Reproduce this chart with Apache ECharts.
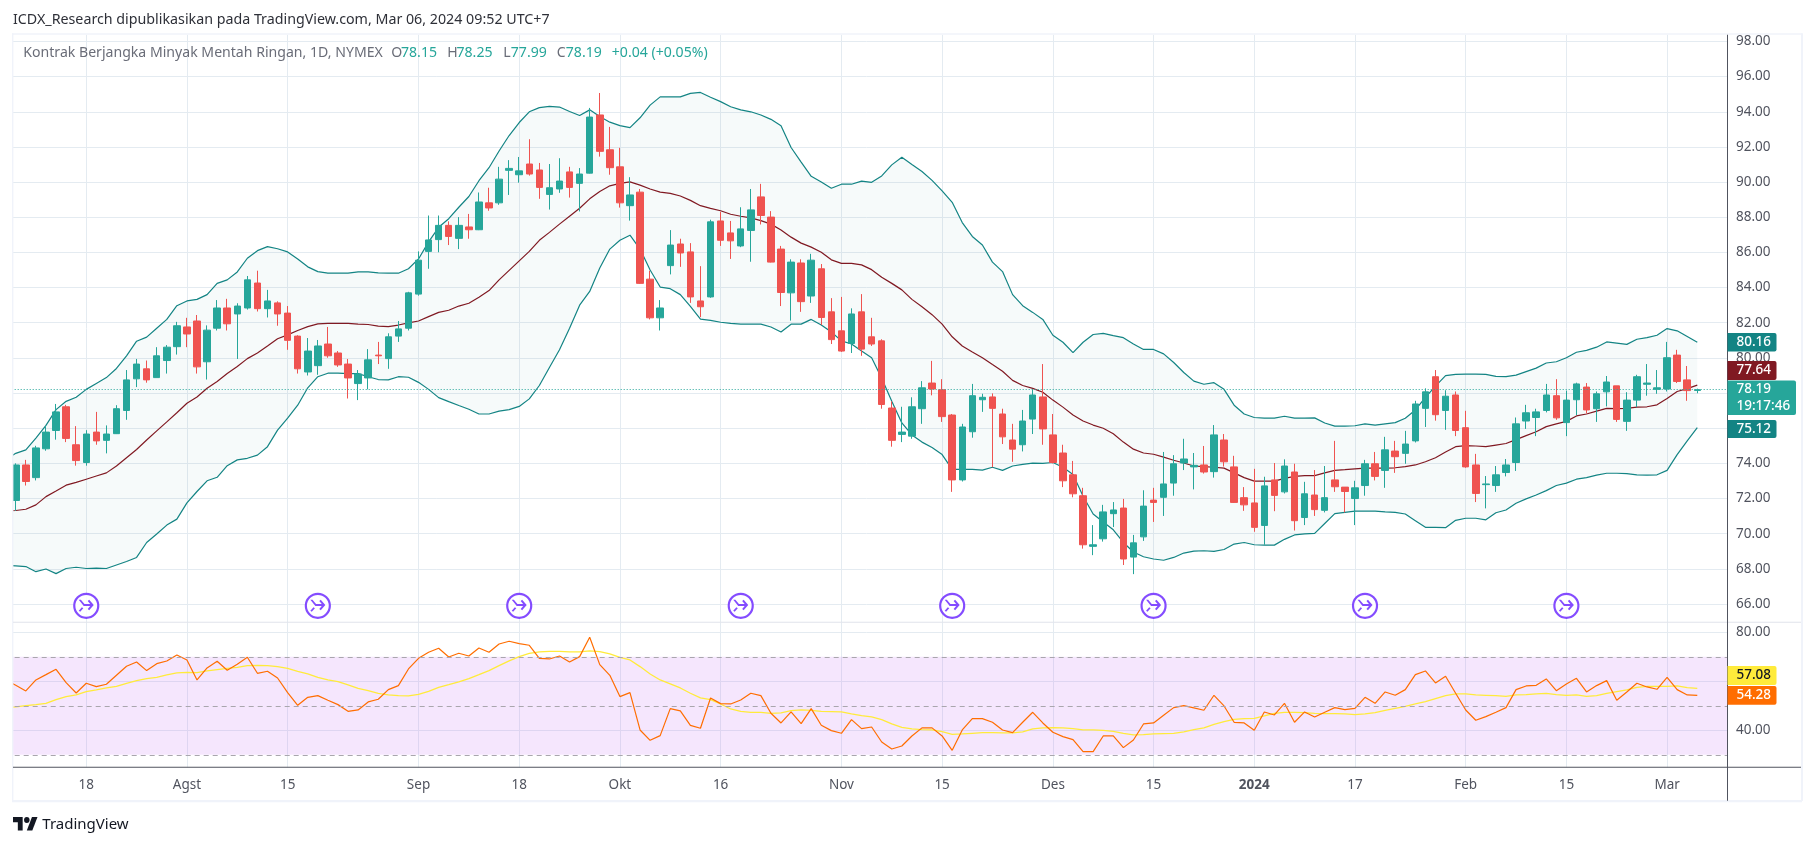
<!DOCTYPE html>
<html><head><meta charset="utf-8">
<script src="https://cdn.jsdelivr.net/npm/echarts@6/dist/echarts.min.js"></script>
<style>html,body{margin:0;padding:0;background:#fff}#c{width:1815px;height:846px}</style>
</head><body><div id="c"></div>
<script>
const tickIndex=[8,18,28,41,51,61,71,83,93,104,114,124,134,145,155,165];
const tickLabels=['18','Agst','15','Sep','18','Okt','16','Nov','15','Des','15','2024','17','Feb','15','Mar'];
const priceTicks=[66,68,70,72,74,76,78,80,82,84,86,88,90,92,94,96,98];
const rsiTicks=[40,60,80];
const dividendBars=[8,31,51,73,94,114,135,155];
const opens=[71.89,73.91,73.19,74.83,75.87,77.22,75.06,74.05,75.78,75.31,75.69,77.01,78.81,79.38,78.88,79.85,80.64,81.76,82.10,79.78,81.69,82.84,82.50,82.84,84.26,82.80,83.13,82.55,81.24,79.20,79.56,80.79,80.28,79.65,78.54,78.86,80.16,79.96,81.24,81.69,83.63,86.06,86.73,87.54,86.80,87.45,87.29,88.82,88.82,90.67,90.42,91.03,90.69,89.30,89.61,90.58,89.93,90.51,93.82,91.84,90.87,88.66,89.43,84.48,82.28,85.25,86.48,86.03,83.24,83.47,87.79,87.11,86.37,87.25,89.16,88.01,86.19,83.70,85.40,83.52,85.07,82.62,81.54,80.82,82.62,81.20,80.97,77.15,75.65,75.55,77.11,78.57,78.19,76.75,73.06,75.80,77.62,77.78,76.81,75.33,75.06,76.52,77.78,75.62,74.59,73.35,72.16,69.28,69.71,71.14,71.46,68.67,69.82,71.91,72.07,72.88,74.02,73.80,73.91,73.53,75.33,73.80,72.05,71.75,70.47,73.06,72.38,73.51,70.92,72.20,71.33,73.06,72.65,72.00,72.74,73.98,73.60,74.70,74.57,75.28,77.13,78.93,77.01,77.89,76.03,73.91,72.79,72.74,73.48,74.05,76.41,76.61,77.01,77.85,76.32,77.62,78.34,77.11,78.07,78.41,76.39,77.60,78.50,78.21,78.23,80.16,78.75,78.15];
const closes=[73.91,72.97,74.88,75.78,76.93,75.42,74.16,75.67,75.28,75.67,77.11,78.75,79.65,78.75,80.12,80.61,81.83,81.36,79.49,81.58,82.84,81.94,82.95,84.44,82.80,83.24,82.50,81.00,79.38,80.39,80.68,80.12,79.60,78.86,79.09,79.89,80.12,81.20,81.65,83.70,85.56,86.71,87.54,86.91,87.54,87.29,88.87,88.53,90.17,90.78,90.64,90.46,89.70,89.68,90.06,89.70,90.46,93.70,91.75,90.82,88.82,89.27,84.24,82.28,82.84,86.42,85.97,83.47,82.91,87.74,86.69,86.66,87.34,88.42,88.10,85.45,83.72,85.45,83.20,85.56,82.30,81.04,80.39,82.50,80.50,80.79,77.35,75.31,75.78,77.22,78.30,78.23,76.66,73.06,76.07,77.85,77.76,77.13,75.51,74.81,76.41,77.89,75.96,74.05,73.01,72.27,69.37,69.37,71.24,71.35,68.56,69.48,71.57,71.78,72.83,73.98,74.25,73.89,73.51,75.62,74.09,71.78,71.64,70.36,72.72,72.18,73.85,70.74,72.27,71.37,72.05,72.67,72.40,72.61,73.98,73.26,74.77,74.38,75.10,77.38,78.07,76.77,77.82,75.87,73.80,72.29,72.83,73.35,73.91,76.25,76.88,76.93,77.89,76.59,77.60,78.52,77.04,77.96,78.63,76.50,77.60,78.93,78.57,78.30,80.01,78.66,78.14,78.19];
const highs=[74.00,74.20,75.00,76.12,77.38,77.33,76.12,75.89,76.93,76.16,77.31,79.31,79.94,79.85,80.61,80.73,82.05,82.28,82.44,81.85,83.29,83.36,83.11,84.66,84.96,83.87,83.22,82.95,81.29,81.13,81.02,81.76,80.39,79.94,79.31,80.50,80.91,81.40,82.10,83.76,86.06,88.10,88.10,87.77,88.01,88.19,89.41,89.68,90.87,91.25,91.43,92.44,91.09,91.03,91.36,90.87,90.80,94.22,95.07,93.14,91.95,90.28,89.61,84.96,83.29,87.27,86.78,86.53,85.22,87.86,88.30,87.79,88.57,89.61,89.90,88.35,86.37,85.61,85.61,85.92,85.34,83.40,83.47,82.82,83.63,82.28,81.06,77.53,77.22,77.76,78.68,79.83,78.79,76.81,76.25,78.52,77.96,77.98,77.11,76.25,77.04,78.21,79.65,76.81,75.06,74.14,72.61,70.49,71.64,71.80,71.98,69.93,72.47,72.61,74.65,74.47,75.40,74.59,74.99,76.18,75.67,74.43,72.65,73.69,73.24,74.02,74.23,73.98,72.95,73.62,73.85,75.28,72.65,73.01,74.20,74.65,75.51,75.28,75.85,77.56,78.27,79.31,78.16,78.09,76.99,74.54,73.28,73.85,74.25,76.61,77.33,77.11,78.52,78.79,78.14,78.59,78.57,78.09,78.97,78.41,78.05,79.04,79.65,79.31,80.91,80.46,79.54,78.25];
const lows=[71.30,72.74,73.03,74.72,75.35,75.21,73.87,73.87,75.06,74.57,75.67,76.48,78.34,78.59,78.88,79.11,80.19,80.61,79.11,78.77,81.56,81.56,79.94,82.75,82.64,82.30,81.83,80.46,79.11,79.00,79.04,80.01,79.49,77.69,77.60,78.21,79.65,79.38,80.91,81.56,83.54,85.07,86.01,86.42,86.19,86.78,87.27,88.37,88.71,89.27,89.97,90.37,89.05,88.44,89.39,89.12,88.33,90.49,91.45,90.42,88.55,87.81,84.21,82.19,81.56,84.75,85.18,83.13,82.32,83.42,86.37,85.63,86.30,85.47,87.59,85.43,82.95,82.12,82.62,83.13,81.87,80.79,80.34,80.28,80.12,80.68,77.11,74.95,75.21,75.40,76.25,77.87,76.36,72.38,72.97,75.46,76.93,73.78,75.10,74.09,74.68,75.67,75.06,74.00,72.65,72.07,69.15,68.78,69.55,70.38,68.22,67.70,69.59,70.67,71.01,72.16,73.62,72.52,73.42,73.19,73.82,71.75,71.30,70.11,69.37,71.28,72.29,70.18,70.49,71.01,71.21,72.38,71.21,70.49,72.16,73.03,72.61,73.46,73.98,75.19,76.07,76.43,75.91,75.55,73.75,71.80,71.44,72.38,73.26,73.57,75.96,75.55,76.90,76.48,75.55,76.75,76.84,76.36,77.24,76.36,75.85,77.20,77.85,77.96,78.09,78.57,77.56,77.99];
// Each indicator list starts with the value just left of the first visible candle
const bbUpper=[74.2,74.57,74.77,75.44,76.16,77.06,77.53,77.76,78.21,78.55,78.88,79.40,80.12,80.95,81.18,81.69,82.19,82.97,83.24,83.33,83.60,84.24,84.44,84.89,85.67,86.10,86.33,86.21,86.03,85.63,85.18,84.91,84.82,84.82,84.82,84.89,84.89,84.84,84.82,84.82,85.07,85.63,86.60,87.43,87.92,88.57,89.18,90.08,90.82,91.77,92.65,93.39,94.00,94.24,94.31,94.27,94.02,93.79,94.11,93.73,93.41,93.21,93.10,93.66,94.38,94.85,94.85,94.85,95.05,95.10,94.83,94.58,94.29,94.11,94.00,93.82,93.57,93.21,91.97,91.14,90.33,90.01,89.65,89.88,89.88,90.06,89.99,90.35,90.98,91.41,91.00,90.60,90.10,89.50,88.85,87.70,86.91,86.42,85.45,84.91,83.60,82.97,82.59,82.19,81.29,80.89,80.30,80.89,81.33,81.40,81.27,81.15,80.79,80.48,80.48,80.23,79.74,79.17,78.68,78.50,78.59,78.21,77.31,76.81,76.61,76.57,76.57,76.68,76.57,76.57,76.59,76.30,76.12,76.12,76.14,76.25,76.18,76.25,76.32,76.57,77.04,77.76,78.39,78.99,79.06,79.08,79.08,79.06,78.95,78.93,79.02,79.22,79.42,79.71,79.78,80.01,80.32,80.43,80.61,80.91,80.84,80.77,81.06,81.15,81.29,81.67,81.54,81.22,80.89];
const bbBasis=[71.3,71.32,71.39,71.64,72.11,72.43,72.76,72.92,73.10,73.28,73.46,73.85,74.32,74.79,75.33,75.85,76.36,76.88,77.42,77.78,78.27,78.66,79.11,79.51,79.96,80.28,80.68,81.09,81.31,81.56,81.78,81.94,81.96,81.96,81.96,81.92,81.90,81.81,81.78,81.87,81.99,82.10,82.35,82.59,82.71,82.95,83.11,83.45,83.83,84.44,84.98,85.52,86.06,86.69,87.14,87.61,88.06,88.51,89.05,89.47,89.79,89.93,90.01,89.83,89.61,89.43,89.36,89.21,88.96,88.66,88.51,88.37,88.17,88.06,87.97,87.81,87.61,87.27,86.87,86.53,86.30,86.01,85.58,85.38,85.38,85.29,85.02,84.59,84.24,83.87,83.33,82.91,82.46,81.92,81.20,80.68,80.34,80.01,79.62,79.24,78.72,78.43,78.27,78.05,77.60,77.20,76.75,76.41,76.18,76.00,75.69,75.21,74.81,74.59,74.52,74.36,74.18,74.02,73.85,73.82,73.78,73.73,73.46,73.19,72.99,72.99,72.99,73.15,73.26,73.30,73.30,73.46,73.60,73.64,73.69,73.73,73.73,73.73,73.75,73.82,73.91,74.09,74.32,74.65,74.95,75.01,74.99,74.95,75.04,75.13,75.35,75.58,75.80,76.09,76.25,76.39,76.70,76.81,76.97,77.13,77.11,77.13,77.20,77.22,77.33,77.69,78.09,78.25,78.45];
const bbLower=[68.2,68.17,68.13,67.84,67.99,67.73,68.02,68.09,68.02,68.04,68.02,68.22,68.42,68.65,69.50,69.98,70.49,70.83,71.75,72.40,73.01,73.21,73.87,74.20,74.29,74.47,74.95,75.89,76.57,77.31,78.30,78.93,79.13,79.13,79.11,79.11,78.93,78.77,78.75,78.93,78.90,78.61,78.21,77.74,77.51,77.29,77.08,76.81,76.81,76.97,77.06,77.24,77.67,78.43,79.45,80.46,81.69,83.00,83.78,85.11,86.19,86.69,86.98,86.19,85.00,84.03,83.94,83.60,82.93,82.21,82.14,82.03,81.96,81.92,81.92,81.92,81.76,81.47,81.92,81.92,82.19,81.87,81.47,80.97,80.79,80.39,80.01,78.84,77.53,76.30,75.62,75.21,74.90,74.50,73.66,73.66,73.66,73.62,73.78,73.60,73.85,73.94,74.02,74.00,74.05,73.78,73.37,72.13,71.12,70.67,70.22,69.50,68.96,68.69,68.56,68.49,68.65,68.90,69.01,69.03,68.99,69.10,69.41,69.50,69.37,69.35,69.35,69.68,69.93,69.99,70.02,70.58,71.14,71.21,71.28,71.28,71.28,71.24,71.21,71.12,70.74,70.36,70.36,70.34,70.76,70.88,70.88,70.79,71.19,71.35,71.73,71.98,72.20,72.45,72.74,72.88,73.10,73.19,73.33,73.44,73.44,73.42,73.35,73.33,73.35,73.60,74.50,75.28,76.03];
const rsiLine=[60.5,58.37,56.06,60.55,62.72,64.90,59.46,55.24,59.19,57.83,58.78,62.45,66.13,67.89,64.36,67.21,68.30,70.75,68.71,60.55,65.45,68.17,64.49,66.94,69.80,63.27,64.09,61.36,55.38,50.21,53.47,54.15,52.25,50.48,47.76,48.30,51.57,52.66,56.60,58.24,65.04,69.39,71.84,73.47,69.94,71.43,70.34,73.61,71.84,75.24,76.33,75.38,74.70,69.39,69.12,70.34,67.89,70.07,77.96,66.81,62.45,53.75,55.38,40.14,35.92,37.83,48.85,47.90,42.04,40.82,53.20,50.89,50.75,52.38,55.11,54.15,46.94,43.00,47.49,42.73,48.85,42.04,39.87,38.78,44.36,40.68,41.36,35.24,32.38,33.61,37.69,41.00,41.00,37.69,31.84,40.14,44.77,44.77,43.27,40.14,39.05,43.27,47.35,43.00,39.19,37.42,36.20,31.30,31.30,37.69,37.69,32.93,36.06,42.59,43.00,46.13,49.26,50.07,49.12,48.17,54.29,49.94,43.27,43.00,40.00,47.49,46.26,51.02,43.27,47.49,45.45,47.35,49.26,48.44,48.98,53.47,51.02,55.65,54.29,56.60,62.72,64.22,59.32,62.04,55.11,48.30,44.09,45.58,47.35,49.26,56.60,58.10,58.37,60.96,56.19,58.92,61.23,55.65,58.24,60.28,52.25,55.65,59.19,57.69,56.74,61.64,56.60,54.43,54.28];
const rsiMa=[49.4,49.53,50.07,50.48,51.02,52.52,53.75,54.43,55.79,56.47,57.28,57.96,59.19,60.28,61.09,61.64,62.59,63.40,63.68,63.54,64.22,64.77,65.31,65.72,66.40,66.53,66.40,66.00,65.31,64.09,63.00,61.64,60.55,59.87,58.51,57.15,56.19,55.11,54.43,54.15,54.02,54.70,55.92,57.56,58.64,59.73,61.09,62.72,64.36,66.40,68.30,70.07,71.43,71.98,72.25,72.25,71.98,71.98,72.38,72.11,71.16,69.80,68.71,66.00,63.00,60.55,58.92,57.28,55.11,53.20,52.52,50.75,48.71,47.76,47.35,47.35,46.94,47.08,48.03,48.30,48.17,47.76,47.62,47.49,46.67,45.99,45.45,44.36,42.59,41.23,40.55,40.28,40.14,39.46,38.37,38.51,38.78,39.05,39.05,38.92,38.92,39.32,40.55,40.96,41.09,40.96,40.68,40.14,40.14,40.00,39.60,38.78,38.10,38.24,38.51,38.64,38.78,39.32,40.28,40.96,42.45,43.54,44.49,44.77,44.90,45.85,46.94,47.35,47.35,47.21,46.94,46.81,46.81,46.67,46.40,46.67,47.21,48.17,48.98,49.80,50.75,51.70,52.93,54.15,54.83,54.83,54.43,54.29,54.15,53.88,54.43,54.56,54.83,55.11,54.56,54.29,54.43,53.88,54.15,55.11,55.79,56.47,57.56,57.96,57.96,57.96,58.10,57.42,57.15];
const lastClose=78.19, rsiLevels=[70,50,30], iconValue=65.9;

const C={up:'#26a69a',down:'#ef5350',bb:'#138484',basis:'#801922',rsi:'#ff6d00',ma:'#ffeb3b',grid:'#e4ebf1',axis:'#50535e',text:'#50535e',frame:'#f0f3fa',purple:'#651fff'};
const FONT='"Noto Sans",sans-serif';
const TOTAL=172;
const categories=Array.from({length:TOTAL},(_,i)=>{const k=tickIndex.indexOf(i);return k>=0?tickLabels[k]:'';});
const isTick=i=>tickIndex.includes(i);
const candles=[null].concat(opens.map((o,i)=>[o,closes[i],lows[i],highs[i]])).map(d=>d||'-');
const band=bbUpper.map((u,i)=>+(u-bbLower[i]).toFixed(2));
const arrowPath='path://M2 5 L5 5 L10 10.6 L18 10.6 L14.5 6.6 L16.6 5 L23 12 L16.6 19 L14.5 17.4 L18 13.4 L9 13.4 Z M2 19.6 L6.4 14.8 L8.4 16.2 L4 21 Z';
const F={left:13,top:34.4,right:1802,bottom:801};
const axisRight=1727.5, paneSep=622.3, paneBottom=767.3;

function txt(x,y,s,fill,size,weight){return {type:'text',z:60,x,y,style:{text:s,fill,font:`${weight||400} ${size}px ${FONT}`,textVerticalAlign:'middle'}};}
function tag(y0,y1,lines,bg,fg,w){
  const out=[{type:'rect',z:60,shape:{x:axisRight,y:y0,width:w||49,height:y1-y0,r:[0,2,2,0]},style:{fill:bg}}];
  lines.forEach((l,i)=>{const cy=y0+(y1-y0)*(i+.5)/lines.length;out.push(Object.assign(txt(axisRight+9,cy,l,fg,13.5,500),{z:61}));});
  return out;
}
function fr(x,y,w,h,c){return {type:'rect',z:55,shape:{x,y,width:w,height:h},style:{fill:c||C.frame}};}
const legendBits=[[23.3,'Kontrak Berjangka Minyak Mentah Ringan, 1D, NYMEX','#6a6d78'],[391.3,'O','#6a6d78'],[401,'78.15',C.up],[447.2,'H','#6a6d78'],[456.5,'78.25',C.up],[503.3,'L','#6a6d78'],[510.8,'77.99',C.up],[556.8,'C','#6a6d78'],[565.8,'78.19',C.up],[611.8,'+0.04 (+0.05%)',C.up]];
const graphic=[
  {type:'rect',z:54,shape:{x:0,y:0,width:12.5,height:846},style:{fill:'#fff'}},
  {type:'rect',z:54,shape:{x:0,y:0,width:1815,height:34},style:{fill:'#fff'}},
  fr(12,33.2,F.right-12,1.6),fr(12,33.2,1.4,F.bottom-33.2),fr(F.right-1,33.2,2,F.bottom-33.2),fr(12,F.bottom-1,F.right-12,2.2),
  {type:'rect',z:56,shape:{x:13,y:paneSep-.5,width:F.right-14,height:1},style:{fill:'#e0e3eb'}},
  {type:'rect',z:56,shape:{x:13,y:paneBottom-.5,width:F.right-14,height:1},style:{fill:C.axis}},
  {type:'rect',z:56,shape:{x:axisRight-.5,y:34.8,width:1,height:F.bottom-35},style:{fill:C.axis}},
  txt(13,19.8,'ICDX_Research dipublikasikan pada TradingView.com, Mar 06, 2024 09:52 UTC+7','#2e3038',14.25),
  ...legendBits.map(b=>txt(b[0],53.3,b[1],b[2],14.1)),
  ...tag(333,351.5,['80.16'],C.bb,'#fff'),
  ...tag(361,380,['77.64'],C.basis,'#fff'),
  ...tag(380.4,415,['78.19','19:17:46'],C.up,'#fff',68.5),
  ...tag(420,438,['75.12'],C.bb,'#fff'),
  ...tag(666,685,['57.08'],C.ma,'#131722'),
  ...tag(686,704.7,['54.28'],C.rsi,'#fff'),
  {type:'group',z:60,x:13,y:814,scaleX:0.69,scaleY:0.75,children:[
    {type:'polygon',z:60,shape:{points:[[0,4],[14,4],[14,22],[7,22],[7,11],[0,11]]},style:{fill:'#131722'}},
    {type:'polygon',z:60,shape:{points:[[20,22],[27.5,4],[35.5,4],[28,22]]},style:{fill:'#131722'}},
    {type:'circle',z:60,shape:{cx:20,cy:8,r:4},style:{fill:'#131722'}}
  ]},
  txt(42.3,825,'TradingView','#131722',15)
];
const bigGridX={splitLine:{show:true,interval:i=>isTick(i),lineStyle:{color:C.grid,width:1}},axisTick:{show:false},axisLine:{show:false}};
const option={
  animation:false,backgroundColor:'#fff',textStyle:{fontFamily:FONT},
  grid:[{left:5.7,top:34.8,width:1721.8,height:587.5},{left:5.7,top:paneSep,width:1721.8,height:145}],
  xAxis:[
    Object.assign({type:'category',gridIndex:0,data:categories,boundaryGap:false,axisLabel:{show:false}},bigGridX),
    Object.assign({type:'category',gridIndex:1,data:categories,boundaryGap:false,
      axisLabel:{show:true,interval:i=>isTick(i),color:C.text,fontSize:13.5,fontFamily:FONT,margin:11,hideOverlap:false,
        formatter:v=>v==='2024'?'{b|2024}':v,rich:{b:{fontWeight:'bold',fontSize:13.5,color:C.text,fontFamily:FONT}}}},bigGridX)
  ],
  yAxis:[
    {type:'value',gridIndex:0,position:'right',min:64.96,max:98.38,axisLine:{show:false},axisTick:{show:false,customValues:priceTicks},
     axisLabel:{customValues:priceTicks,color:C.text,fontSize:13.5,fontFamily:FONT,margin:8.5,padding:[2,0,0,0],formatter:v=>v.toFixed(2)},splitLine:{show:true,lineStyle:{color:C.grid}}},
    {type:'value',gridIndex:1,position:'right',min:24.9,max:84.08,axisLine:{show:false},axisTick:{show:false,customValues:rsiTicks},
     axisLabel:{customValues:rsiTicks,color:C.text,fontSize:13.5,fontFamily:FONT,margin:8.5,padding:[2,0,0,0],formatter:v=>v.toFixed(2)},splitLine:{show:true,lineStyle:{color:C.grid}}}
  ],
  series:[
    {type:'line',name:'bbBase',xAxisIndex:0,yAxisIndex:0,stack:'bb',data:bbLower,symbol:'none',lineStyle:{opacity:0},z:1},
    {type:'line',name:'bbBand',xAxisIndex:0,yAxisIndex:0,stack:'bb',data:band,symbol:'none',lineStyle:{opacity:0},areaStyle:{color:'rgba(19,132,132,0.055)'},z:1},
    {type:'line',name:'upper',xAxisIndex:0,yAxisIndex:0,data:bbUpper,symbol:'none',lineStyle:{color:C.bb,width:1.2},z:3},
    {type:'line',name:'lower',xAxisIndex:0,yAxisIndex:0,data:bbLower,symbol:'none',lineStyle:{color:C.bb,width:1.2},z:3},
    {type:'line',name:'basis',xAxisIndex:0,yAxisIndex:0,data:bbBasis,symbol:'none',lineStyle:{color:C.basis,width:1.2},z:3},
    {type:'candlestick',name:'price',xAxisIndex:0,yAxisIndex:0,data:candles,barWidth:7,z:4,
     itemStyle:{color:C.up,color0:C.down,borderColor:C.up,borderColor0:C.down,borderColorDoji:C.down,borderWidth:1},
     markLine:{silent:true,symbol:'none',label:{show:false},lineStyle:{color:C.up,type:[1,2],width:1,opacity:1},data:[{yAxis:lastClose}]}},
    {type:'scatter',name:'ring',xAxisIndex:0,yAxisIndex:0,data:dividendBars.map(i=>[i,iconValue]),symbol:'circle',symbolSize:24,itemStyle:{color:'#fff',borderColor:C.purple,borderWidth:2.2},z:5},
    {type:'scatter',name:'arrow',xAxisIndex:0,yAxisIndex:0,data:dividendBars.map(i=>[i,iconValue]),symbol:arrowPath,symbolSize:[15,12],itemStyle:{color:C.purple},z:6},
    {type:'line',name:'RSI',xAxisIndex:1,yAxisIndex:1,data:rsiLine,symbol:'none',lineStyle:{color:C.rsi,width:1.2},z:4,
     markArea:{silent:true,itemStyle:{color:'rgba(190,100,245,0.16)'},data:[[{yAxis:rsiLevels[2]},{yAxis:rsiLevels[0]}]]},
     markLine:{silent:true,symbol:'none',label:{show:false},lineStyle:{color:'#a9a6ad',type:[5,4],width:1},data:rsiLevels.map(v=>({yAxis:v}))}},
    {type:'line',name:'MA',xAxisIndex:1,yAxisIndex:1,data:rsiMa,symbol:'none',lineStyle:{color:C.ma,width:1.3},z:3}
  ],
  graphic
};
const chart=echarts.init(document.getElementById('c'),null,{renderer:'canvas'});
chart.setOption(option);
</script></body></html>
